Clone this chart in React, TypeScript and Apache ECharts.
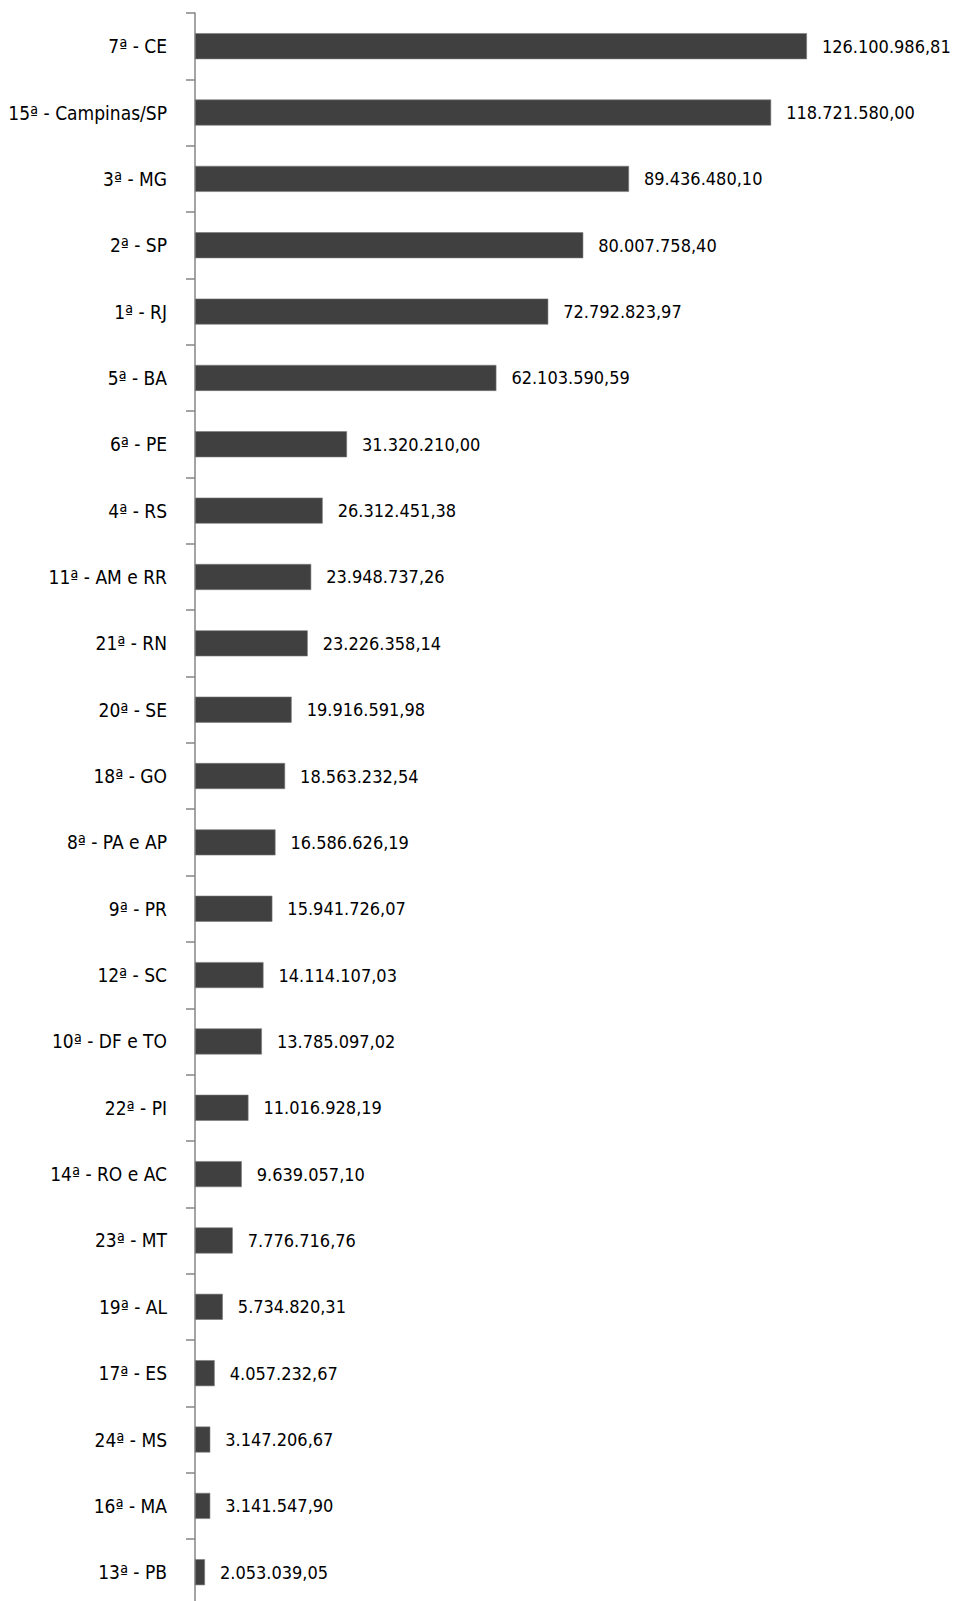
import React, { useEffect, useRef } from "react";
import * as echarts from "echarts";

const categories: string[] = [
  "7ª - CE",
  "15ª - Campinas/SP",
  "3ª - MG",
  "2ª - SP",
  "1ª - RJ",
  "5ª - BA",
  "6ª - PE",
  "4ª - RS",
  "11ª - AM e RR",
  "21ª - RN",
  "20ª - SE",
  "18ª - GO",
  "8ª - PA e AP",
  "9ª - PR",
  "12ª - SC",
  "10ª - DF e TO",
  "22ª - PI",
  "14ª - RO e AC",
  "23ª - MT",
  "19ª - AL",
  "17ª - ES",
  "24ª - MS",
  "16ª - MA",
  "13ª - PB",
];

const values: number[] = [
  126100986.81,
  118721580.0,
  89436480.1,
  80007758.4,
  72792823.97,
  62103590.59,
  31320210.0,
  26312451.38,
  23948737.26,
  23226358.14,
  19916591.98,
  18563232.54,
  16586626.19,
  15941726.07,
  14114107.03,
  13785097.02,
  11016928.19,
  9639057.1,
  7776716.76,
  5734820.31,
  4057232.67,
  3147206.67,
  3141547.9,
  2053039.05,
];

const axisMax = 140000000;

function formatBR(v: number): string {
  const fixed = v.toFixed(2);
  const [intPart, dec] = fixed.split(".");
  const withDots = intPart.replace(/\B(?=(\d{3})+(?!\d))/g, ".");
  return withDots + "," + dec;
}

const FONT = "'DejaVu Sans Condensed', 'Liberation Sans Narrow', sans-serif";

export default function App() {
  const ref = useRef<HTMLDivElement>(null);

  useEffect(() => {
    if (!ref.current) return;
    const chart = echarts.init(ref.current, undefined, { renderer: "svg" });
    chart.setOption({
      animation: false,
      backgroundColor: "#ffffff",
      grid: {
        left: 195,
        top: 13,
        width: 679.4,
        height: 1592.4,
        containLabel: false,
        outerBoundsMode: "none",
      },
      xAxis: {
        type: "value",
        min: 0,
        max: axisMax,
        show: false,
        splitLine: { show: false },
      },
      yAxis: {
        type: "category",
        data: categories,
        inverse: true,
        boundaryGap: true,
        axisLine: { show: true, lineStyle: { color: "#868686", width: 1.5 } },
        axisTick: { show: true, inside: false, length: 9, lineStyle: { color: "#868686", width: 1.5 } },
        axisLabel: {
          margin: 28,
          color: "#000000",
          fontSize: 19,
          fontFamily: FONT,
        },
        splitLine: { show: false },
      },
      series: [
        {
          type: "bar",
          data: values,
          barWidth: 26,
          itemStyle: { color: "#404040", borderColor: "#7a7a7a", borderWidth: 0.6 },
          label: {
            show: true,
            position: "right",
            distance: 15,
            color: "#000000",
            fontSize: 18,
            fontFamily: FONT,
            formatter: (p: any) => formatBR(p.value),
          },
        },
      ],
    });
    return () => chart.dispose();
  }, []);

  return (
    <div
      ref={ref}
      style={{ position: "absolute", left: 0, top: 0, width: 956, height: 1620 }}
    />
  );
}
